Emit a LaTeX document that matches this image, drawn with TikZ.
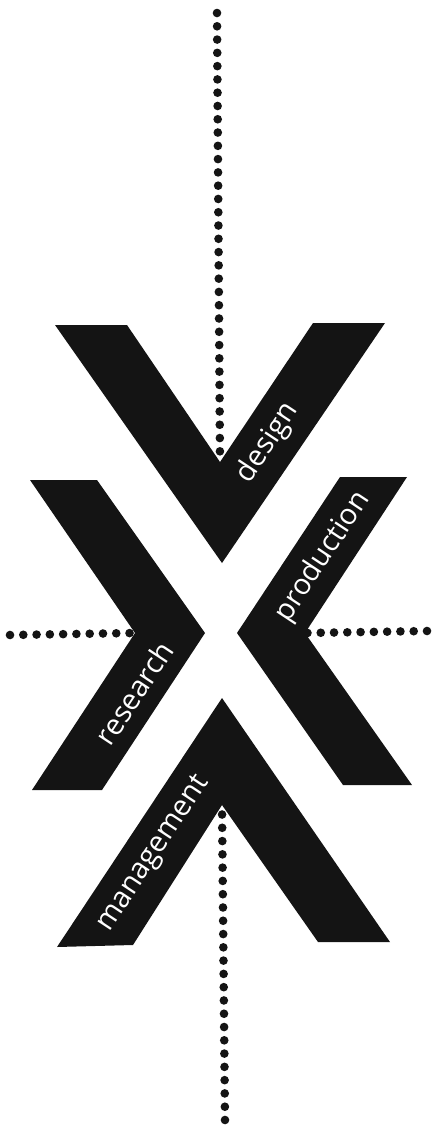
\documentclass[tikz,border=0pt]{standalone}
\usepackage{fontspec}
\setsansfont{Open Sans}
\usetikzlibrary{positioning}
\definecolor{ink}{HTML}{141414}
\tikzset{
  galon/.style={fill=ink,draw=none},
  etiqueta/.style={text=white,font=\sffamily\fontsize{16.5}{16.5}\selectfont,rotate=56.5,inner sep=0pt},
  punteado/.style={draw=ink,line width=4.9pt,line cap=round,dash pattern=on 0.01pt off 7.55pt},
}
\begin{document}
\begin{tikzpicture}[x=0.02cm,y=-0.02cm]
  \useasboundingbox (0,0) rectangle (432,1126);
  \fill[galon] (55,325) -- (127,325) -- (220,462) coordinate (m-dis) -- (313,323) -- (385,323) -- (222,563) -- cycle;
  \fill[galon] (30,480) -- (97,480) -- (205,633) -- (102,790) -- (32,790) -- (135,633) coordinate (m-inv) -- cycle;
  \fill[galon] (340,477) -- (407,477) -- (305,633) coordinate (m-pro) -- (412,785) -- (343,785) -- (237,633) -- cycle;
  \fill[galon] (222,698) -- (390,942) -- (318,942) -- (222,805) coordinate (m-ges) -- (133,945) -- (57,947) -- cycle;
  \node[etiqueta] (dis) at (268,443) {design};
  \node[etiqueta] (pro) at (323,557) {production};
  \node[etiqueta] (inv) at (134,693) {research};
  \node[etiqueta] (ges) at (154,854) {management};
  \coordinate (arriba) at (217,13);
  \coordinate (izq) at (10,635);
  \coordinate (der) at (427,631);
  \coordinate (abajo) at (225,1120);
  \draw[punteado] (arriba) -- (m-dis);
  \draw[punteado] (izq) -- (m-inv);
  \draw[punteado] (der) -- (m-pro);
  \draw[punteado] (abajo) -- (m-ges);
\end{tikzpicture}
\end{document}
